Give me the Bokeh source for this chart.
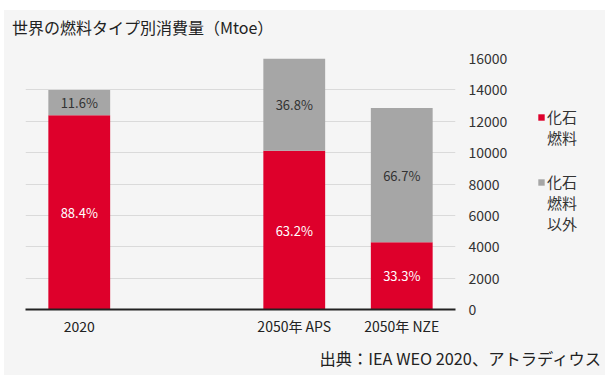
from bokeh.plotting import figure
from bokeh.models import (ColumnDataSource, FactorRange, Range1d, LinearAxis, FixedTicker,
                          Legend, LegendItem, LabelSet, Div)
from bokeh.layouts import row, column
from bokeh.core.properties import value
from bokeh.embed import file_html
from bokeh.resources import INLINE

FONT = "Noto Sans CJK JP"

# ---- data ----
title_text = "世界の燃料タイプ別消費量（Mtoe）"
source_text = "出典：IEA WEO 2020、アトラディウス"
categories = ["2020", " ", "2050年 APS", "2050年 NZE"]
fossil = [12376, 0, 10112, 4279]          # 化石燃料 (Mtoe)
non_fossil = [1624, 0, 5888, 8571]        # 化石燃料以外 (Mtoe)
fossil_pct = ["88.4%", "", "63.2%", "33.3%"]
non_fossil_pct = ["11.6%", "", "36.8%", "66.7%"]
y_ticks = [0, 2000, 4000, 6000, 8000, 10000, 12000, 14000, 16000]
legend_fossil = ["化石", "燃料"]
legend_non_fossil = ["化石", "燃料", "以外"]

RED = "#de002b"
GRAY = "#a6a6a6"
BG = "#f5f5f5"

src = ColumnDataSource(dict(
    cat=categories,
    fossil=fossil,
    non_fossil=non_fossil,
    fossil_mid=[f / 2 for f in fossil],
    non_mid=[f + n / 2 for f, n in zip(fossil, non_fossil)],
    fpct=fossil_pct,
    npct=non_fossil_pct,
))

p = figure(x_range=FactorRange(*categories, range_padding=0),
           y_range=Range1d(0, 16000),
           width=511, height=301,
           output_backend="svg", toolbar_location=None,
           background_fill_color=BG, border_fill_color=BG,
           outline_line_color=None,
           min_border_left=21, min_border_right=60,
           min_border_top=14, min_border_bottom=36,
           margin=0)

r1 = p.vbar_stack(["fossil", "non_fossil"], x="cat", width=0.575, source=src,
                  color=[RED, GRAY], line_color=None)

# labels
p.add_layout(LabelSet(x="cat", y="fossil_mid", text="fpct", source=src,
                      text_align="center", text_baseline="middle",
                      text_color="white", text_font=value(FONT), text_font_size="13px"))
p.add_layout(LabelSet(x="cat", y="non_mid", text="npct", source=src,
                      text_align="center", text_baseline="middle",
                      text_color="#333333", text_font=value(FONT), text_font_size="13px"))

# axes
p.yaxis.visible = False
yax = LinearAxis(ticker=FixedTicker(ticks=y_ticks))
yax.axis_line_color = None
yax.major_tick_line_color = None
yax.minor_tick_line_color = None
yax.major_label_standoff = 7
yax.major_label_text_font = FONT
yax.major_label_text_font_size = "14px"
yax.major_label_text_color = "#333333"
p.add_layout(yax, "right")

p.ygrid.ticker = FixedTicker(ticks=y_ticks)
p.ygrid.grid_line_color = "#dadada"
p.xgrid.grid_line_color = None

p.xaxis.axis_line_color = "#222222"
p.xaxis.axis_line_width = 2
p.xaxis.major_tick_line_color = None
p.xaxis.minor_tick_line_color = None
p.xaxis.major_label_standoff = 0
p.xaxis.major_label_text_font = FONT
p.xaxis.major_label_text_font_size = "14px"
p.xaxis.major_label_text_color = "#222222"

# ---- legend panel ----
lf = figure(width=90, height=301, output_backend="svg", toolbar_location=None,
            x_range=Range1d(0, 1), y_range=Range1d(0, 1),
            background_fill_color=BG, border_fill_color=BG,
            outline_line_color=None, min_border=0, margin=0)
lf.axis.visible = False
lf.grid.visible = False
r_red = lf.vbar(x=[0.5], top=[0], bottom=[0], width=0, color=RED, line_color=None)
r_gray = lf.vbar(x=[0.5], top=[0], bottom=[0], width=0, color=GRAY, line_color=None)
r_none = lf.vbar(x=[0.5], top=[0], bottom=[0], width=0, fill_alpha=0, line_alpha=0)


def make_legend(lines, rend, loc):
    items = [LegendItem(label=lines[0], renderers=[rend], index=0)]
    items += [LegendItem(label=t, renderers=[r_none], index=0) for t in lines[1:]]
    return Legend(items=items, location=loc, orientation="vertical",
                  background_fill_alpha=0, border_line_color=None,
                  label_text_font=FONT, label_text_font_size="15px",
                  label_text_color="#333333", label_height=18,
                  glyph_width=8, glyph_height=8, label_standoff=2,
                  spacing=0, padding=0, margin=0)


lf.add_layout(make_legend(legend_fossil, r_red, (22, 161)))
lf.add_layout(make_legend(legend_non_fossil, r_gray, (22, 75)))

title_div = Div(text=(f'<div style="font-family:\'{FONT}\';font-size:16px;line-height:34px;'
                      f'height:34px;padding-left:8px;color:#222222;white-space:nowrap">'
                      f'{title_text}</div>'),
                width=601, height=34, margin=0)
source_div = Div(text=(f'<div style="font-family:\'{FONT}\';font-size:16.3px;line-height:26px;'
                       f'height:30px;text-align:right;padding-right:2px;color:#222222;'
                       f'white-space:nowrap;width:599px">{source_text}</div>'),
                 width=601, height=30, margin=0)

layout = column(title_div, row(p, lf, spacing=0, margin=0), source_div,
                spacing=0, margin=(10, 0, 5, 4),
                styles={"background-color": BG})
open("out.html", "w").write(file_html(layout, INLINE))
